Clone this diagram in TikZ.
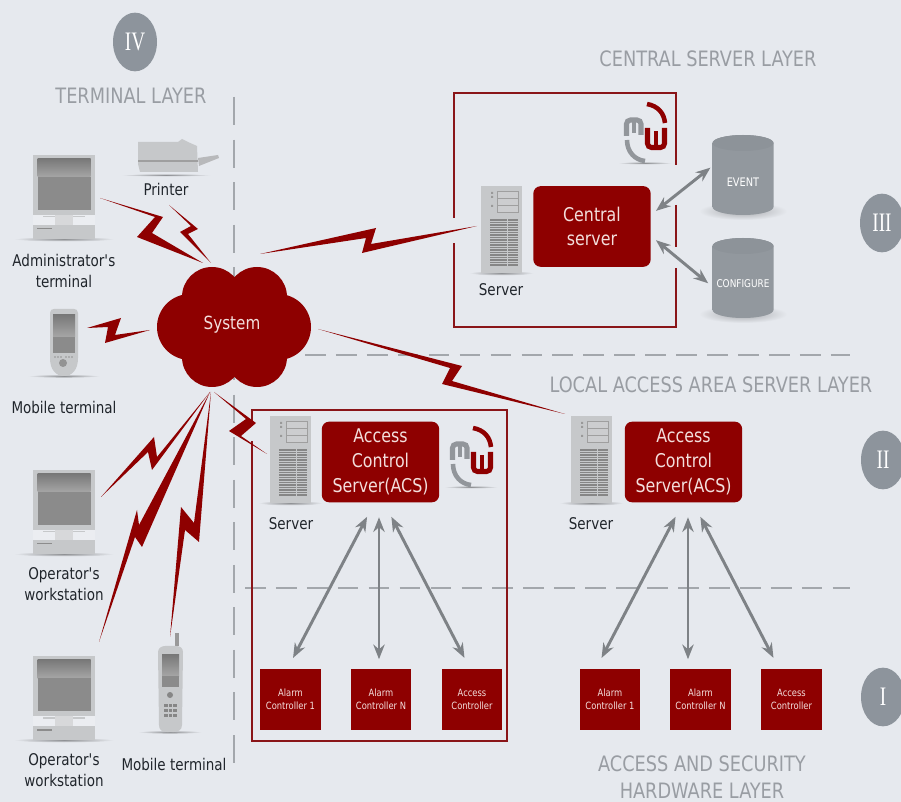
\documentclass[tikz,border=0pt]{standalone}
\usepackage{fontspec}
\setmainfont[FakeStretch=0.93]{DejaVu Sans Condensed}
\newfontfamily\badgefont[FakeStretch=0.72]{Liberation Serif}
\usetikzlibrary{shapes.geometric,calc,arrows.meta}
\definecolor{bgc}{HTML}{E6E9EE}
\definecolor{wine}{HTML}{8E0000}
\definecolor{framec}{HTML}{8A1518}
\definecolor{layerc}{HTML}{999DA3}
\definecolor{badgec}{HTML}{8D949C}
\definecolor{inkc}{HTML}{20252B}
\definecolor{paletxt}{HTML}{F3DEDC}
\definecolor{dashc}{HTML}{A3A7AC}
\definecolor{arrowc}{HTML}{7E8286}
\definecolor{casec}{HTML}{C6C8CA}
\definecolor{logoc}{HTML}{92969B}
\definecolor{screenc}{HTML}{8B8B8B}
\definecolor{dbbody}{HTML}{A0A5AB}
\definecolor{dbedge}{HTML}{92989E}
\definecolor{dbtop}{HTML}{8D9399}
\tikzset{
  layertext/.style={text=layerc,font=\fontsize{15.9}{20.6}\selectfont,align=center,inner sep=0},
  labeltext/.style={text=inkc,font=\fontsize{12.1}{16.3}\selectfont,align=center,inner sep=0},
  badge/.style={ellipse,fill=badgec,minimum width=33pt,minimum height=44pt,inner sep=0,text=white,font=\badgefont\fontsize{20}{20}\selectfont},
  redbox/.style={fill=wine,rounded corners=5.5pt,minimum width=88pt,minimum height=60.5pt,inner sep=0,text=paletxt,align=center,font=\fontsize{14.2}{18.5}\selectfont},
  ctlbox/.style={fill=wine,minimum width=45.5pt,minimum height=46pt,inner sep=0,text=paletxt,align=center,font=\fontsize{7.5}{9.7}\selectfont},
  dbtext/.style={text=white,inner sep=0,font=\fontsize{8.8}{10}\selectfont},
  frameline/.style={draw=framec,line width=1.8pt},
  dashv/.style={draw=dashc,line width=.9pt,dash pattern=on 21pt off 10.9pt},
  dashh/.style={draw=dashc,line width=.9pt,dash pattern=on 15.5pt off 7.7pt},
  biarrow/.style={draw=arrowc,line width=2.2pt,{Stealth[length=11pt,width=8.5pt]}-{Stealth[length=11pt,width=8.5pt]},shorten <=12pt,shorten >=9pt},
  shadow/.style={inner color=black!38!bgc,outer color=bgc},
  softshadow/.style={inner color=black!28!bgc,outer color=bgc},
  pics/desktop/.style={code={
    \shade[shadow] (31,84) ellipse[x radius=50,y radius=2.5];
    \fill[casec] (0,0) rectangle (62,60);
    \fill[bgc!80!white] (0,60) rectangle (62,70);
    \fill[casec] (10,61) rectangle (52,62.5);
    \fill[casec!70!white] (22,60) rectangle (40,70);
    \fill[casec] (0,70) rectangle (62,84);
    \fill[gray!90] (4,73) rectangle (19,74.5);
    \shade[top color=gray!105,bottom color=gray!70] (4.5,4) rectangle (57.5,22);
    \fill[screenc] (4.5,22) rectangle (57.5,55);
  }},
  pics/rack/.style={code={
    \shade[shadow] (20.5,87) ellipse[x radius=32,y radius=2.5];
    \fill[casec] (0,0) rectangle (41,87);
    \foreach \yy in {5,12,19}
      \draw[gray!75,fill=casec!90!white,line width=.5pt] (16,\yy) rectangle (37,\yy+7);
    \fill[gray!80] (10,6) rectangle (12,8) (10,10) rectangle (12,12) (10,19) rectangle (12,21);
    \foreach \yy in {34,36.5,...,81}
      \draw[gray!95,line width=1pt] (9,\yy) -- (37,\yy);
    \draw[casec,line width=.7pt] (26,33) -- (26,82);
  }},
  pics/mwlogo/.style={code={
    \shade[shadow] (0,23) ellipse[x radius=27,y radius=1.5];
    \draw[logoc,line width=3.8pt,rounded corners=3pt] (-18.5,-4) -- (-18.5,-20) -- (-4,-20) -- (-4,-5);
    \draw[logoc,line width=3.6pt] (-11,-20) -- (-11,-7);
    \draw[wine,line width=3.8pt,rounded corners=3pt] (2.5,-12) -- (2.5,7.5) -- (19.5,7.5) -- (19.5,-12);
    \draw[wine,line width=3.6pt] (11,7.5) -- (11,-9);
    \draw[wine,line width=3.4pt] (2,-36) .. controls (13,-34) and (19,-27) .. (20,-17);
    \draw[logoc,line width=3.4pt] (-18,0) .. controls (-18,12) and (-10,20) .. (0,21);
  }},
  pics/dbcan/.style={code={
    \shade[softshadow] (0,36) ellipse[x radius=44,y radius=9];
    \shade[left color=dbedge,middle color=dbbody,right color=dbedge]
      (-30.5,-32) -- (-30.5,32) arc[start angle=180,delta angle=-180,x radius=30.5,y radius=8]
      -- (30.5,-32) arc[start angle=0,delta angle=-180,x radius=30.5,y radius=8] -- cycle;
    \fill[dbtop] (0,-32) ellipse[x radius=30.5,y radius=8];
  }},
}
\newcommand{\boltline}[6]{\fill[wine] (#1) -- (#3) -- (#4) -- (#2) -- (#5) -- (#6) -- cycle;}
\begin{document}
\begin{tikzpicture}[x=.75pt,y=-.75pt]
\fill[bgc] (0,0) rectangle (901,802);
\useasboundingbox (0,0) rectangle (901,802);

\draw[dashv] (234,97) -- (234,772);
\draw[dashh] (305,355) -- (850,355);
\draw[dashh] (245,588) -- (850,588);

\draw[frameline] (454,218) -- (454,93) -- (676,93) -- (676,165);
\draw[frameline] (676,205) -- (676,247);
\draw[frameline] (676,268) -- (676,327) -- (454,327) -- (454,243);
\draw[frameline] (252,425) -- (252,410) -- (507,410) -- (507,741) -- (252,741) -- (252,441);

\node[badge] (lay4) at (135,42) {IV};
\node[badge] (lay3) at (882,223) {III};
\node[badge] (lay2) at (883,460) {II};
\node[badge] (lay1) at (883,697) {I};

\node[layertext] (termlayer) at (131,96) {TERMINAL LAYER};
\node[layertext] (centlayer) at (708,59) {CENTRAL SERVER LAYER};
\node[layertext] (locallayer) at (711,385) {LOCAL ACCESS AREA SERVER LAYER};
\node[layertext] (hwlayer) at (702,777) {ACCESS AND SECURITY\\HARDWARE LAYER};

% cloud
\fill[wine] (212,297) circle[radius=30] (257,297) circle[radius=30]
  (190,327) circle[radius=33] (278,327) circle[radius=33]
  (212,357) circle[radius=30] (257,357) circle[radius=30] (234,327) circle[radius=40];
\node[text=paletxt,inner sep=0,font=\fontsize{13.6}{16}\selectfont] (system) at (232,325) {System};

% terminals
\pic at (33,155) {desktop};
\pic at (33,470) {desktop};
\pic at (33,656) {desktop};
\node[labeltext] (admin) at (64,271) {Administrator\textquotesingle s\\terminal};
\node[labeltext] (oper1) at (64,584) {Operator\textquotesingle s\\workstation};
\node[labeltext] (oper2) at (64,770) {Operator\textquotesingle s\\workstation};
\node[labeltext] (mob1) at (64,407) {Mobile terminal};
\node[labeltext] (mob2) at (174,764) {Mobile terminal};
\node[labeltext] (printer) at (166,189) {Printer};

% printer
\shade[shadow] (166,175) ellipse[x radius=45,y radius=1.5];
\fill[casec] (138,142) -- (178,142) -- (182,139) -- (188,142) -- (197,146) -- (198,172) -- (140,172) -- (138,164) -- cycle;
\draw[gray!75,line width=.8pt] (138,161) -- (198,161);
\fill[casec!80!gray] (198,158) -- (218,155) -- (219,158) -- (199,166) -- cycle;

% pda
\shade[shadow] (64,376) ellipse[x radius=36,y radius=1.8];
\fill[casec] (50,313) .. controls (50,310) and (52,309) .. (54,309) -- (74,309) .. controls (76,309) and (78,310) .. (78,313)
  -- (78,358) .. controls (78,370) and (72,376) .. (64,376) .. controls (56,376) and (50,370) .. (50,358) -- cycle;
\shade[top color=gray!105,bottom color=gray!70] (53,315) rectangle (75,337);
\fill[screenc] (53,337) rectangle (75,353);
\fill[gray!85] (63,363) circle[radius=4];
\foreach \xx in {55,58,61,66,69,72} \fill[gray!85] (\xx,357) circle[radius=.8];

% phone
\shade[shadow] (170,732) ellipse[x radius=32,y radius=1.8];
\fill[gray!80] (175,633) rectangle (178.5,646);
\fill[casec] (158,652) .. controls (158,648) and (162,646) .. (165,646) -- (176,646) .. controls (180,646) and (183,648) .. (183,652)
  -- (182,725) .. controls (182,730) and (178,732) .. (174,732) -- (167,732) .. controls (162,732) and (159,730) .. (159,725) -- cycle;
\shade[top color=gray!105,bottom color=gray!70] (162,655) rectangle (179,676);
\fill[screenc] (162,676) rectangle (179,687);
\fill[gray!95] (170,695) circle[radius=3];
\foreach \yy in {704,709,714}
  \foreach \xx in {164,168.5,173} \fill[gray!95] (\xx,\yy) rectangle (\xx+3.5,\yy+3);

% servers
\pic at (481,186) {rack};
\pic at (270,416) {rack};
\pic at (571,416) {rack};
\node[labeltext] (srv3) at (501,290) {Server};
\node[labeltext] (srv2a) at (291,524) {Server};
\node[labeltext] (srv2b) at (591,524) {Server};

\node[redbox] (central) at (592,226.5) {Central\\server};
\node[redbox] (acsa) at (380.5,462) {Access\\Control\\Server(ACS)};
\node[redbox] (acsb) at (683.5,462) {Access\\Control\\Server(ACS)};

\pic at (645,140) {mwlogo};
\pic at (471,464) {mwlogo};

\pic at (743,175) {dbcan};
\pic at (743,278) {dbcan};
\node[dbtext] (event) at (743,182) {EVENT};
\node[dbtext,font=\fontsize{8}{10}\selectfont] (config) at (743,284) {CONFIGURE};

\node[ctlbox] (alarma1) at (290.5,699.5) {Alarm\\Controller 1};
\node[ctlbox] (alarman) at (381,699.5) {Alarm\\Controller N};
\node[ctlbox] (accessa) at (472,699.5) {Access\\Controller};
\node[ctlbox] (alarmb1) at (610,699.5) {Alarm\\Controller 1};
\node[ctlbox] (alarmbn) at (700.5,699.5) {Alarm\\Controller N};
\node[ctlbox] (accessb) at (791.5,699.5) {Access\\Controller};

\draw[biarrow] ($(acsa.south)+(-6,0)$) -- ($(alarma1.north)+(-3,0)$);
\draw[biarrow,shorten <=11pt,shorten >=7pt] ($(acsa.south)+(-1.5,0)$) -- ($(alarman.north)+(-2,0)$);
\draw[biarrow] ($(acsa.south)+(3.5,0)$) -- ($(accessa.north)+(-2,0)$);
\draw[biarrow] ($(acsb.south)+(-.5,0)$) -- ($(alarmb1.north)+(-14,0)$);
\draw[biarrow,shorten <=11pt,shorten >=7pt] ($(acsb.south)+(4.5,0)$) -- ($(alarmbn.north)+(-12.5,0)$);
\draw[biarrow] ($(acsb.south)+(9.5,0)$) -- ($(accessb.north)+(-12.5,0)$);
\draw[biarrow,shorten <=2pt,shorten >=2pt] ($(central.east)+(3,-14)$) -- ($(event.west)+(-14,-16)$);
\draw[biarrow,shorten <=2pt,shorten >=2pt] ($(central.east)+(3,12)$) -- ($(config.west)+(-6,1)$);

% bolts
\coordinate (adminp) at (100,198);
\coordinate (prnp) at (169,205);
\coordinate (pdap) at (87,328);
\coordinate (cloudn) at (203,263);
\coordinate (cloudm) at (211,263);
\coordinate (cloudw) at (150,330);
\coordinate (cloude) at (318,329);
\coordinate (cloudne) at (260,254);
\coordinate (cloudsa) at (210,392);
\coordinate (cloudsb) at (211,392);
\coordinate (cloudse) at (214,392);
\coordinate (srvp) at (477,226);
\coordinate (srvq) at (565,414);
\coordinate (srvr) at (267,454);
\coordinate (op1p) at (101,497);
\coordinate (op2p) at (99,642);
\coordinate (phonep) at (170,637);
\boltline{adminp}{cloudn}{163,217}{152,233}{137,237}{155,217}
\boltline{prnp}{cloudm}{198,229}{188,234}{180,232}{191,226}
\boltline{pdap}{cloudw}{121,318}{115,335}{105,343}{108,327}
\boltline{cloudne}{srvp}{376,228}{371,244}{362,253}{366,238}
\boltline{cloude}{srvq}{462,366}{452,381}{442,384}{450,368}
\boltline{op1p}{cloudsa}{154,437}{157,457}{152,470}{148,452}
\boltline{op2p}{cloudsa}{137,510}{139,525}{142,547}{135,537}
\boltline{phonep}{cloudsb}{181,507}{194,523}{199,542}{185,530}
\boltline{cloudse}{srvr}{256,423}{241,436}{229,431}{246,419}
\end{tikzpicture}
\end{document}
